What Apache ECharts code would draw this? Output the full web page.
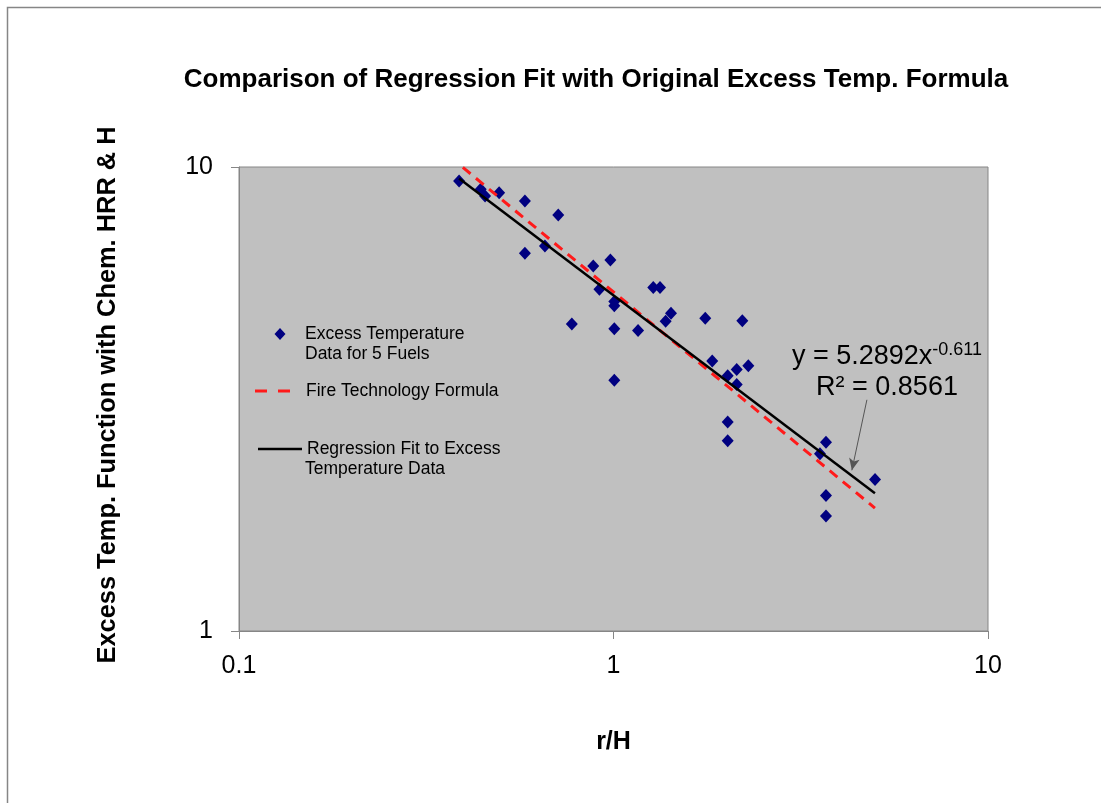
<!DOCTYPE html>
<html>
<head>
<meta charset="utf-8">
<title>Comparison of Regression Fit with Original Excess Temp. Formula</title>
<script src="https://cdn.jsdelivr.net/npm/echarts@6/dist/echarts.min.js"></script>
<style>
  html, body { margin: 0; padding: 0; background: #fff; }
  #chart { width: 1101px; height: 803px; }
</style>
</head>
<body>
<div id="chart"></div>
<script>
// --- données --- //
const rOverH = [0.387, 0.442, 0.454, 0.495, 0.580, 0.712, 0.580, 0.656, 0.883, 0.981,
  0.917, 1.005, 1.005, 0.774, 1.005, 1.163, 1.277, 1.331, 1.424, 1.378,
  1.758, 1.005, 2.208, 1.835, 2.291, 2.133, 2.018, 2.133, 2.018, 2.018,
  3.693, 3.559, 4.993, 3.693, 3.693];
const excessTemp = [9.33, 8.95, 8.66, 8.80, 8.45, 7.88, 6.52, 6.76, 6.12, 6.30,
  5.45, 5.13, 5.02, 4.59, 4.48, 4.44, 5.50, 5.50, 4.84, 4.65,
  4.72, 3.47, 4.66, 3.82, 3.73, 3.66, 3.55, 3.40, 2.82, 2.57,
  2.55, 2.41, 2.12, 1.96, 1.77];

// droite de régression (y = 5.2892x^-0.611) et formule Fire Technology, extrémités lues
const fitX = [0.387, 4.99];
const fitY = [9.45, 1.98];
const fireX = [0.396, 4.99];
const fireY = [9.98, 1.84];

// flèche de l'équation
const arrowFrom = [4.75, 3.15];
const arrowTo = [4.33, 2.22];

const tickLabels = { 0.1: '0.1', 1: '1', 10: '10' };

const seriesNames = [
  'Excess Temperature Data for 5 Fuels',
  'Fire Technology Formula',
  'Regression Fit to Excess Temperature Data'
];
const legendFirstLine = {
  'Excess Temperature Data for 5 Fuels': 'Excess Temperature',
  'Fire Technology Formula': 'Fire Technology Formula',
  'Regression Fit to Excess Temperature Data': 'Regression Fit to Excess'
};

const font = 'Liberation Sans, Arial, sans-serif';
const toPairs = (xs, ys) => xs.map((x, i) => [x, ys[i]]);

const legendBase = {
  orient: 'vertical',
  itemGap: 0,
  padding: 0,
  selectedMode: false,
  formatter: (name) => legendFirstLine[name],
  textStyle: { fontFamily: font, fontSize: 17.5, color: '#000' }
};
const legendText = (pad) => Object.assign({}, legendBase.textStyle, { padding: [0, 0, 0, pad] });

let option = {
  animation: false,
  backgroundColor: '#fff',
  title: {
    text: 'Comparison of Regression Fit with Original Excess Temp. Formula',
    left: 591,
    top: 62,
    textAlign: 'center',
    textStyle: { fontFamily: font, fontSize: 26, fontWeight: 'bold', color: '#000' }
  },
  grid: {
    left: 239,
    right: 113,
    top: 167,
    bottom: 172,
    show: true,
    backgroundColor: '#c0c0c0',
    borderColor: '#868686',
    borderWidth: 1
  },
  xAxis: {
    type: 'log',
    logBase: 10,
    min: 0.1,
    max: 10,
    name: 'r/H',
    nameLocation: 'middle',
    nameGap: 99,
    nameTextStyle: { fontFamily: font, fontSize: 25, fontWeight: 'bold', color: '#000' },
    axisLine: { lineStyle: { color: '#868686', width: 1 } },
    axisTick: { show: true, length: 8, lineStyle: { color: '#868686' } },
    minorTick: { show: false },
    splitLine: { show: false },
    axisLabel: {
      margin: 23,
      fontFamily: font,
      fontSize: 25,
      color: '#000',
      formatter: (v) => tickLabels[v] || ''
    }
  },
  yAxis: {
    type: 'log',
    logBase: 10,
    min: 1,
    max: 10,
    name: 'Excess Temp. Function with Chem. HRR & H',
    nameLocation: 'middle',
    nameGap: 119,
    nameTextStyle: { fontFamily: font, fontSize: 25.4, fontWeight: 'bold', color: '#000', padding: [0, 0, 0, 8] },
    axisLine: { show: true, lineStyle: { color: '#868686', width: 1 } },
    axisTick: { show: true, length: 8, lineStyle: { color: '#868686' } },
    minorTick: { show: false },
    splitLine: { show: false },
    axisLabel: {
      margin: 26,
      fontFamily: font,
      fontSize: 25,
      color: '#000',
      formatter: (v) => tickLabels[v] || ''
    }
  },
  legend: [
    Object.assign({}, legendBase, {
      data: [{ name: seriesNames[0], icon: 'diamond' }],
      left: 274.5, top: 325,
      itemWidth: 11, itemHeight: 12,
      textStyle: legendText(14.5)
    }),
    Object.assign({}, legendBase, {
      data: [{ name: seriesNames[1], icon: 'path://M0,0H12V3H0Z M23,0H35V3H23Z' }],
      left: 255, top: 382,
      itemWidth: 35, itemHeight: 3,
      textStyle: legendText(11)
    }),
    Object.assign({}, legendBase, {
      data: [{ name: seriesNames[2], icon: 'path://M0,0H44V2.5H0Z' }],
      left: 258, top: 440,
      itemWidth: 44, itemHeight: 2.5,
      textStyle: legendText(0)
    })
  ],
  graphic: [
    {
      type: 'polyline',
      shape: { points: [[7.5, 803], [7.5, 7.5], [1101, 7.5]] },
      style: { stroke: '#868686', lineWidth: 1.5, fill: null },
      silent: true
    },
    {
      type: 'text', left: 305, top: 345,
      style: { text: 'Data for 5 Fuels', font: '17.5px ' + font, fill: '#000' }
    },
    {
      type: 'text', left: 305, top: 460,
      style: { text: 'Temperature Data', font: '17.5px ' + font, fill: '#000' }
    },
    {
      type: 'text',
      x: 887,
      y: 341,
      style: {
        text: '{a|y = 5.2892x}{s|-0.611}\n{a|R² = 0.8561}',
        align: 'center',
        verticalAlign: 'top',
        rich: {
          a: { fontFamily: font, fontSize: 27, color: '#222', lineHeight: 31 },
          s: { fontFamily: font, fontSize: 18, color: '#222', verticalAlign: 'top', lineHeight: 31, padding: [0, 0, 8, 0] }
        }
      },
      silent: true
    }
  ],
  series: [
    {
      name: seriesNames[0],
      type: 'scatter',
      symbol: 'diamond',
      symbolSize: [12, 13],
      itemStyle: { color: '#000080', opacity: 1 },
      data: toPairs(rOverH, excessTemp),
      z: 2
    },
    {
      name: seriesNames[1],
      type: 'line',
      symbol: 'none',
      lineStyle: { color: '#ff1a1a', width: 3, type: [10, 7] },
      itemStyle: { color: '#ff1a1a' },
      data: toPairs(fireX, fireY),
      z: 3
    },
    {
      name: seriesNames[2],
      type: 'line',
      symbol: 'none',
      lineStyle: { color: '#000', width: 2.5 },
      itemStyle: { color: '#000' },
      data: toPairs(fitX, fitY),
      z: 4,
      markLine: {
        silent: true,
        symbol: ['none', 'arrow'],
        symbolSize: [8, 12],
        label: { show: false },
        lineStyle: { color: '#555', width: 1, type: 'solid' },
        data: [[{ coord: arrowFrom }, { coord: arrowTo }]]
      }
    }
  ]
};

const chart = echarts.init(document.getElementById('chart'), null, { renderer: 'canvas' });
chart.setOption(option);
</script>
</body>
</html>
